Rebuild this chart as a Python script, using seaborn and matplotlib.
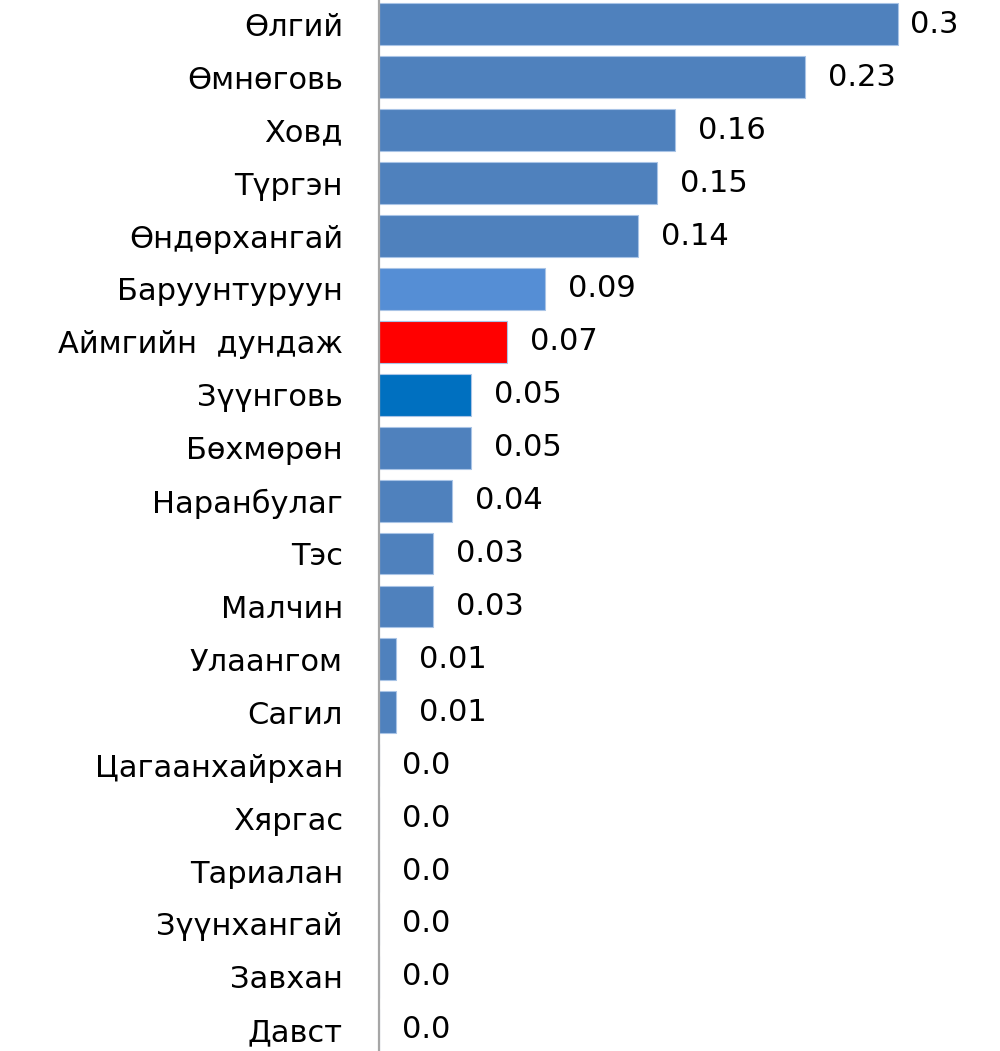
import matplotlib
matplotlib.use("Agg")
import matplotlib.pyplot as plt
import seaborn as sns
import pandas as pd

# --- data ---
regions = ["Өлгий", "Өмнөговь", "Ховд", "Түргэн", "Өндөрхангай", "Баруунтуруун",
           "Аймгийн  дундаж", "Зүүнговь", "Бөхмөрөн", "Наранбулаг", "Тэс", "Малчин",
           "Улаангом", "Сагил", "Цагаанхайрхан", "Хяргас", "Тариалан", "Зүүнхангай",
           "Завхан", "Давст"]
values = [0.300, 0.246, 0.171, 0.161, 0.150, 0.096, 0.074, 0.053, 0.053, 0.042,
          0.031, 0.031, 0.0098, 0.0098, 0.0, 0.0, 0.0, 0.0, 0.0, 0.0]
value_labels = ["0.3", "0.23", "0.16", "0.15", "0.14", "0.09", "0.07", "0.05", "0.05",
                "0.04", "0.03", "0.03", "0.01", "0.01", "0.0", "0.0", "0.0", "0.0",
                "0.0", "0.0"]

base = "#4F81BD"
colors = [base] * len(regions)
colors[5] = "#558ED5"   # Баруунтуруун
colors[6] = "#FF0000"   # Аймгийн дундаж
colors[7] = "#0070C0"   # Зүүнговь

df = pd.DataFrame({"region": regions, "value": values})

sns.set_style("white")
plt.rcParams["font.family"] = ["DejaVu Sans"]

fig = plt.figure(figsize=(10, 10.51), dpi=100)
ax = fig.add_axes([0.379, 0.0, 0.621, 1.0])

sns.barplot(data=df, x="value", y="region", hue="region", palette=colors,
            saturation=1, legend=False, width=0.79, orient="h", ax=ax,
            edgecolor="#A9C4E6", linewidth=0.8)

ax.set_xlim(0, 0.359)
ax.set_ylim(19.40, -0.46)

for i, (v, lab) in enumerate(zip(values, value_labels)):
    pad = 12 if i == 0 else 23
    ax.annotate(lab, xy=(v, i), xytext=(pad * 0.72, 0), textcoords="offset points",
                ha="left", va="center", fontsize=22, color="black")

ax.set_xlabel("")
ax.set_ylabel("")
ax.set_xticks([])
ax.tick_params(axis="y", length=0, pad=26, labelsize=22, labelcolor="black")
for s in ["top", "right", "bottom"]:
    ax.spines[s].set_visible(False)
ax.spines["left"].set_color("#A6A6A6")
ax.spines["left"].set_linewidth(1.6)

fig.savefig("out.png", dpi=100)
